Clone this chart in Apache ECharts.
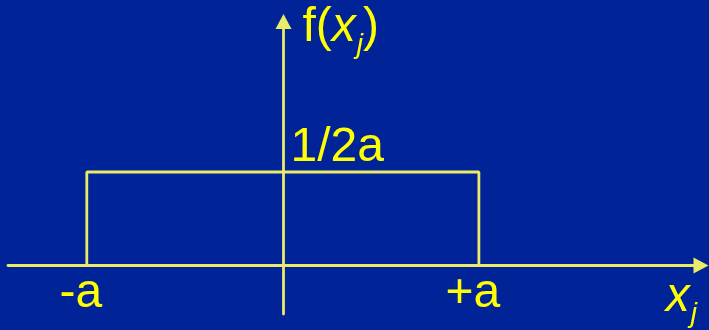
<!DOCTYPE html>
<html>
<head>
<meta charset="utf-8">
<script src="https://cdn.jsdelivr.net/npm/echarts@6/dist/echarts.min.js"></script>
<style>
  html, body { margin: 0; padding: 0; background: #002497; }
  #chart { width: 709px; height: 330px; }
</style>
</head>
<body>
<div id="chart"></div>
<script>
// uniform density f(x) = 1/2a on [-a, +a], drawn with a = 1
const rectX = [-1, -1, 1, 1]
const rectY = [0, 0.5, 0.5, 0]
const xTickValues = [-1, 1]
const xTickLabels = ['-a', '+a']
const yTickValues = [0.5]
const yTickLabels = ['1/2a']
const xName = '{m|x}{s|j}'
const yName = '{n|f(}{m|x}{s|j}{n|)}'

const lineColor = '#ebeb6a'
const textColor = '#ffff00'
const font = 'Liberation Sans, Arial, sans-serif'

const chart = echarts.init(document.getElementById('chart'))

const richText = {
  n: { fontSize: 48, lineHeight: 48, color: textColor, fontFamily: font, verticalAlign: 'top' },
  m: { fontSize: 48, lineHeight: 48, color: textColor, fontFamily: font, fontStyle: 'italic', verticalAlign: 'top' },
  s: { fontSize: 28, lineHeight: 28, color: textColor, fontFamily: font, fontStyle: 'italic', verticalAlign: 'top', padding: [27, 0, 0, 1] }
}

// grid edges: x from 8 to 701, y from 21.5 to 314; axes cross at (283.5, 265.5)
chart.setOption({
  backgroundColor: '#002497',
  animation: false,
  grid: { left: 8, right: 8, top: 21.5, bottom: 16, outerBoundsMode: 'none', containLabel: false },
  xAxis: {
    type: 'value',
    min: -1.402,
    max: 2.133,
    position: 'bottom',
    offset: -48.5,
    axisLine: {
      onZero: false,
      lineStyle: { color: lineColor, width: 2.8 },
      symbol: ['none', 'triangle'],
      symbolSize: [16, 15]
    },
    axisTick: { show: false },
    splitLine: { show: false },
    axisLabel: {
      customValues: xTickValues,
      formatter: v => xTickLabels[xTickValues.indexOf(v)],
      color: textColor,
      fontSize: 48,
      fontFamily: font,
      margin: 4,
      verticalAlign: 'top',
      padding: [0, 12, 0, 0]
    },
    name: xName,
    nameLocation: 'end',
    nameGap: -4,
    nameMoveOverlap: false,
    nameTextStyle: { align: 'right', verticalAlign: 'top', padding: [8, 0, 0, 0], rich: richText }
  },
  yAxis: {
    type: 'value',
    min: -0.2594,
    max: 1.3048,
    position: 'left',
    offset: -275.5,
    axisLine: {
      onZero: false,
      lineStyle: { color: lineColor, width: 2.8 },
      symbol: ['none', 'triangle'],
      symbolSize: [16, 15]
    },
    axisTick: { show: false },
    splitLine: { show: false },
    axisLabel: {
      customValues: yTickValues,
      formatter: v => yTickLabels[yTickValues.indexOf(v)],
      inside: true,
      color: textColor,
      fontSize: 48,
      fontFamily: font,
      margin: 7,
      verticalAlign: 'bottom',
      padding: [0, 0, 0, 0]
    },
    name: yName,
    nameLocation: 'end',
    nameGap: 17.5,
    nameMoveOverlap: false,
    nameTextStyle: { align: 'left', verticalAlign: 'top', padding: [0, 0, 0, 19], rich: richText }
  },
  series: [
    {
      type: 'line',
      data: rectX.map((x, i) => [x, rectY[i]]),
      symbol: 'none',
      lineStyle: { color: lineColor, width: 2.8 },
      silent: true
    }
  ]
})
</script>
</body>
</html>
